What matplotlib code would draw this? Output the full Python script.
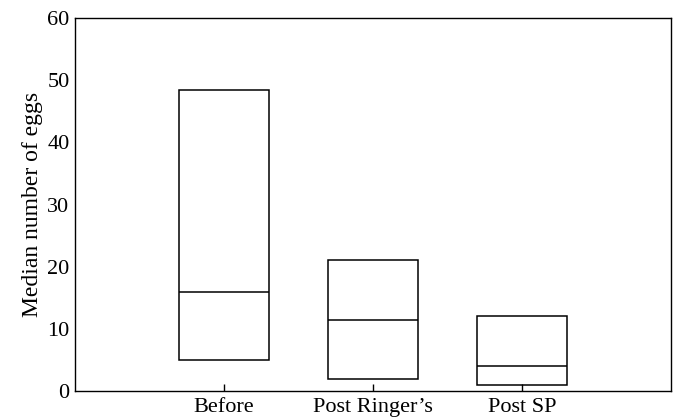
import numpy as np
import matplotlib.pyplot as plt

# data
groups = ["Before", "Post Ringer\u2019s", "Post SP"]
q1 = [5.0, 2.0, 1.0]
median = [16.0, 11.5, 4.0]
q3 = [48.5, 21.0, 12.0]

plt.rcParams['font.family'] = ['Liberation Serif', 'DejaVu Serif']

fig = plt.figure(figsize=(6.74, 4.19), dpi=100)
ax = fig.add_axes([0.1113, 0.0668, 0.8842, 0.8902])

x = np.arange(len(groups))
w = 0.6
ax.bar(x, np.array(q3) - np.array(q1), bottom=q1, width=w, fill=False,
       edgecolor='black', linewidth=1.1)
ax.hlines(median, x - w / 2, x + w / 2, colors='black', linewidth=1.1)

ax.set_xlim(-1, 3)
ax.set_ylim(0, 60)
ax.set_xticks(x)
ax.set_xticklabels(groups)
ax.set_yticks(np.arange(0, 61, 10))
ax.tick_params(axis='x', direction='in', length=5, width=1, labelsize=16, pad=5)
ax.tick_params(axis='y', length=0, labelsize=16, pad=4)
ax.set_ylabel("Median number of eggs", fontsize=17, labelpad=3)
for s in ax.spines.values():
    s.set_linewidth(1.0)

fig.savefig("out.png", dpi=100)
